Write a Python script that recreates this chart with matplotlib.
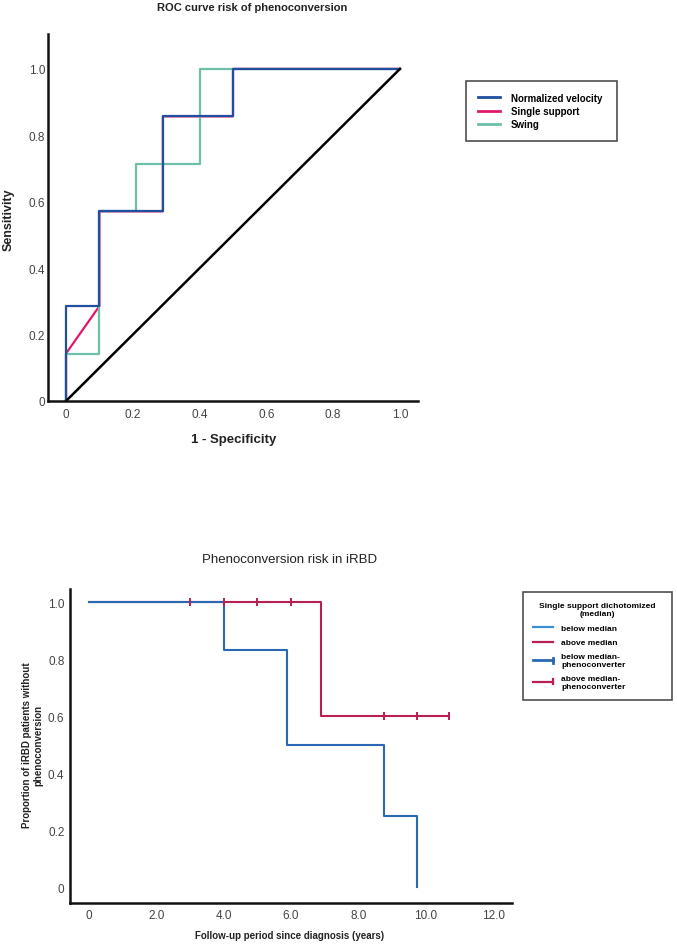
import matplotlib
matplotlib.use("Agg")
import matplotlib.pyplot as plt
from matplotlib.lines import Line2D
from matplotlib.legend_handler import HandlerBase

plt.rcParams["font.family"] = ["Liberation Sans", "DejaVu Sans"]

# ROC data (1 - specificity, sensitivity)
vel_fpr = [0, 0, 0.1, 0.1, 0.29, 0.29, 0.5, 0.5, 1.0]
vel_tpr = [0, 0.286, 0.286, 0.571, 0.571, 0.857, 0.857, 1.0, 1.0]
sup_fpr = [0, 0, 0.1, 0.1, 0.29, 0.29, 0.5, 0.5, 1.0]
sup_tpr = [0, 0.143, 0.286, 0.571, 0.571, 0.857, 0.857, 1.0, 1.0]
swg_fpr = [0, 0, 0.1, 0.1, 0.21, 0.21, 0.4, 0.4, 1.0]
swg_tpr = [0, 0.143, 0.143, 0.571, 0.571, 0.714, 0.714, 1.0, 1.0]
ref_line = [0, 1.0]
roc_ticks = [0, 0.2, 0.4, 0.6, 0.8, 1.0]
roc_ticklabels = ["0", "0.2", "0.4", "0.6", "0.8", "1.0"]

# Kaplan-Meier data (years, proportion without phenoconversion)
below_t = [0, 4.0, 5.88, 8.75, 9.75]
below_s = [1.0, 0.833, 0.5, 0.25, 0.0]
above_t = [0, 6.9, 10.7]
above_s = [1.0, 0.6, 0.6]
cens_t = [3.0, 4.0, 5.0, 6.0, 8.75, 9.75, 10.7]
cens_s = [1.0, 1.0, 1.0, 1.0, 0.6, 0.6, 0.6]
km_xticks = [0, 2, 4, 6, 8, 10, 12]
km_xlabels = ["0", "2.0", "4.0", "6.0", "8.0", "10.0", "12.0"]
km_yticks = [0, 0.2, 0.4, 0.6, 0.8, 1.0]
km_ylabels = ["0", "0.2", "0.4", "0.6", "0.8", "1.0"]

c_vel = "#1f4fa0"
c_sup = "#e0186c"
c_swg = "#6dbfa8"
c_blue = "#2a68b2"
c_blue_light = "#3a8fd0"
c_red = "#b8204f"

W, H = 677, 945
fig = plt.figure(figsize=(6.77, 9.45), dpi=100)

def style(ax):
    for s in ["top", "right"]:
        ax.spines[s].set_visible(False)
    for s in ["left", "bottom"]:
        ax.spines[s].set_linewidth(1.8)
        ax.spines[s].set_color("#111111")
    ax.tick_params(length=0, labelsize=8.5, labelcolor="#444444")

# ---- ROC curve
ax1 = fig.add_axes([48 / W, 1 - 402 / H, 370 / W, 367 / H])
ax1.plot(sup_fpr, sup_tpr, color=c_sup, lw=1.6, solid_joinstyle="round")
ax1.plot(swg_fpr, swg_tpr, color=c_swg, lw=1.6, solid_joinstyle="round")
ax1.plot(vel_fpr, vel_tpr, color=c_vel, lw=1.6, solid_joinstyle="round")
ax1.plot(ref_line, ref_line, color="black", lw=1.8)
ax1.set_xlim(-0.054, 1.054)
ax1.set_ylim(0, 1.105)
ax1.set_xticks(roc_ticks, roc_ticklabels)
ax1.set_yticks(roc_ticks, roc_ticklabels)
style(ax1)
ax1.tick_params(axis="y", pad=2)
ax1.tick_params(axis="x", pad=5)

h1 = [Line2D([], [], color=c_vel, lw=2), Line2D([], [], color=c_sup, lw=2),
      Line2D([], [], color=c_swg, lw=2)]
leg1 = ax1.legend(h1, ["Normalized velocity", "Single support", "Swing"],
                  loc="upper left", bbox_to_anchor=(466 / W, 1 - 142 / H, 151 / W, 60 / H),
                  bbox_transform=fig.transFigure, mode="expand", fancybox=False,
                  borderaxespad=0, edgecolor="#222222", prop={"weight": "bold", "size": 7},
                  handlelength=2.3, handletextpad=1.1, labelspacing=0.35, borderpad=1.2)
leg1.get_frame().set_linewidth(1.2)

fig.text(252 / W, 1 - 8 / H, "ROC curve risk of phenoconversion", ha="center", va="center",
         fontsize=8, fontweight="bold", color="#222222")
fig.text(9 / W, 1 - 220 / H, "Sensitivity", rotation=90, ha="center", va="center",
         fontsize=9, fontweight="bold", color="#222222")
fig.text(234 / W, 1 - 440 / H, "1 - Specificity", ha="center", va="center",
         fontsize=9.5, fontweight="bold", color="#222222")

# ---- Kaplan-Meier
ax2 = fig.add_axes([70 / W, 1 - 904 / H, 442 / W, 314 / H])
ax2.step(above_t, above_s, where="post", color=c_red, lw=1.5)
ax2.step(below_t, below_s, where="post", color=c_blue, lw=1.5)
ax2.plot(cens_t, cens_s, ls="none", marker="|", ms=6, mew=1.4, color=c_red)
ax2.set_xlim(-0.56, 12.56)
ax2.set_ylim(-0.056, 1.046)
ax2.set_xticks(km_xticks, km_xlabels)
ax2.set_yticks(km_yticks, km_ylabels)
style(ax2)
ax2.tick_params(axis="y", pad=4)
ax2.tick_params(axis="x", pad=4)


class TickEnd(HandlerBase):
    def create_artists(self, legend, orig, xd, yd, w, h, fs, trans):
        y = h / 2 - yd
        ln = Line2D([-xd, w - xd], [y, y], color=orig.get_color(), lw=orig.get_linewidth())
        tk = Line2D([w - xd, w - xd], [y - h * 0.45, y + h * 0.45], color=orig.get_color(),
                    lw=orig.get_linewidth())
        ln.set_transform(trans)
        tk.set_transform(trans)
        return [ln, tk]


h2 = [Line2D([], [], color=c_blue_light, lw=1.6), Line2D([], [], color=c_red, lw=1.6),
      Line2D([], [], color=c_blue, lw=2.0), Line2D([], [], color=c_red, lw=1.6)]
leg2 = ax2.legend(h2, ["below median", "above median", "below median-\nphenoconverter",
                       "above median-\nphenoconverter"],
                  title="Single support dichotomized\n(median)",
                  loc="upper left", bbox_to_anchor=(523 / W, 1 - 702 / H, 149 / W, 109 / H),
                  bbox_transform=fig.transFigure, mode="expand", fancybox=False,
                  borderaxespad=0, edgecolor="#222222", prop={"weight": "bold", "size": 6},
                  title_fontproperties={"weight": "bold", "size": 6},
                  handler_map={h2[2]: TickEnd(), h2[3]: TickEnd()},
                  handlelength=2.4, handletextpad=0.9, labelspacing=0.8, borderpad=1.25)
leg2.get_title().set_multialignment("center")
leg2.get_frame().set_linewidth(1.2)

fig.text(290 / W, 1 - 560 / H, "Phenoconversion risk in iRBD", ha="center", va="center",
         fontsize=9.5, color="#222222")
fig.text(33 / W, 1 - 745 / H, "Proportion of iRBD patients without\nphenoconversion",
         rotation=90, ha="center", va="center", fontsize=7, fontweight="bold",
         color="#222222", linespacing=1.2)
fig.text(290 / W, 1 - 936 / H, "Follow-up period since diagnosis (years)", ha="center",
         va="center", fontsize=7, fontweight="bold", color="#222222")

fig.savefig("out.png", dpi=100)
